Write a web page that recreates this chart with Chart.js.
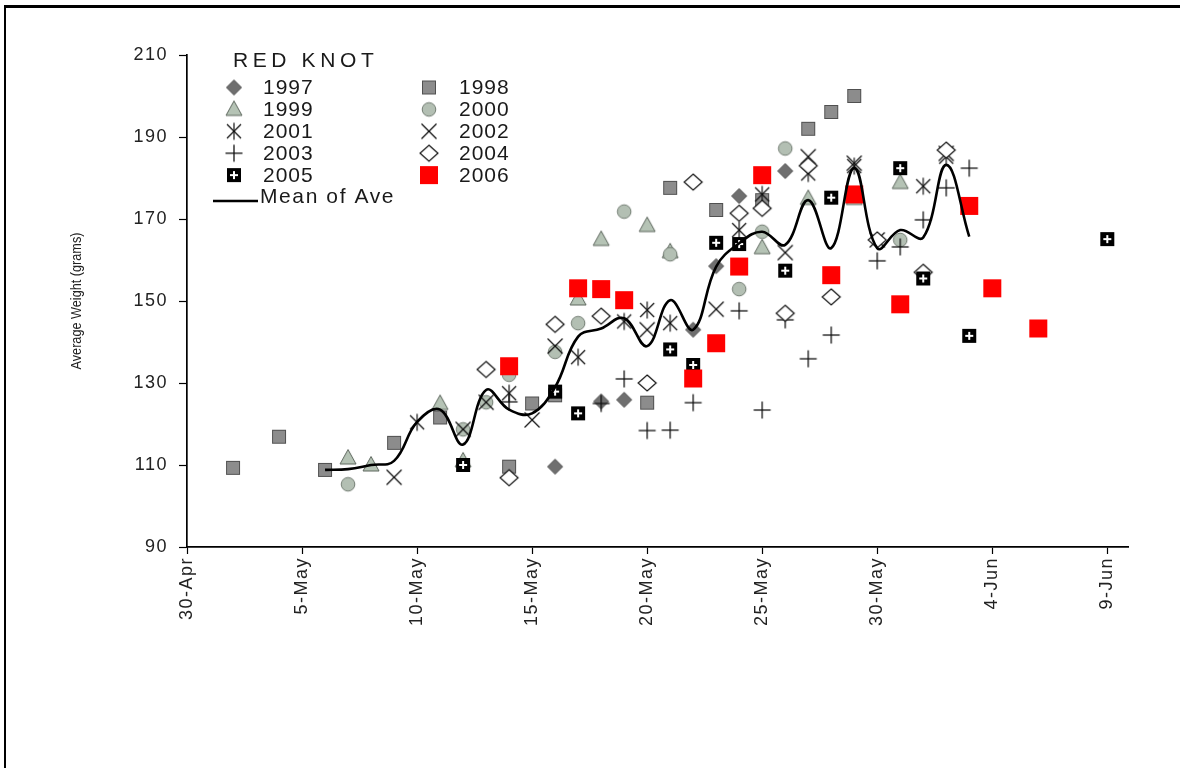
<!DOCTYPE html>
<html>
<head>
<meta charset="utf-8">
<script src="https://cdn.jsdelivr.net/npm/chart.js@4.4.1/dist/chart.umd.min.js"></script>
<style>
  html, body { margin: 0; padding: 0; background: #fff; }
  #wrap { position: relative; width: 1180px; height: 768px; overflow: hidden; }
  #wrap canvas { position: absolute; left: 0; top: 0; }
  #frame { position: absolute; left: 4px; top: 5px; right: -10px; bottom: -10px;
           border-left: 2px solid #000; border-top: 3px solid #000; pointer-events: none; }
</style>
</head>
<body>
<div id="wrap">
  <canvas id="chart" width="1180" height="768"></canvas>
  <div id="frame"></div>
</div>
<script>
// Days counted from 30 April; weights in grams.
const tickDays   = [0, 5, 10, 15, 20, 25, 30, 35, 40];
const tickLabels = ['30-Apr', '5-May', '10-May', '15-May', '20-May', '25-May', '30-May', '4-Jun', '9-Jun'];
const keyTitle = 'RED KNOT';
const yTitle = 'Average Weight (grams)';
const years = ['1997', '1998', '1999', '2000', '2001', '2002', '2003', '2004', '2005', '2006'];

// [day, average weight] per season
const y1997 = [[16,109.6],[18,125.5],[19,125.9],[22,143],[23,158.5],[24,175.6],[26,181.7]];
const y1998 = [[2,109.3],[4,116.9],[6,108.8],[9,115.4],[11,121.6],[14,109.6],[15,125],[16,127],[20,125.2],[21,177.6],[23,172.2],[25,174.6],[27,192],[28,196.1],[29,200]];
const y1999 = [[7,111.7],[8,110],[11,125],[12,111],[17,150.5],[18,165],[20,168.4],[21,162],[25,163],[27,175],[29,175],[31,178.9]];
const y2000 = [[7,105.3],[12,118.7],[13,125.3],[14,132],[16,137.6],[17,144.6],[19,171.8],[21,161.4],[24,152.9],[25,166.9],[26,187.2],[31,164.9]];
const y2001 = [[10,120.4],[14,127.5],[17,136.3],[19,145],[20,147.8],[21,144.6],[24,167.3],[25,176],[27,181.1],[29,182.9],[32,178],[33,185.2]];
const y2002 = [[9,107],[12,118.7],[13,125.3],[15,121],[16,139],[20,143],[23,148],[26,161.8],[27,185.2],[29,183.6],[30,164.9],[33,186]];
const y2003 = [[14,125.4],[18,125],[19,131],[20,118.4],[21,118.5],[22,125.2],[24,147.6],[25,123.4],[26,145.4],[27,135.9],[28,141.7],[30,159.8],[31,163.2],[32,169.8],[33,177.6],[34,182.4]];
const y2004 = [[13,133.3],[14,106.9],[16,144.3],[18,146.3],[20,130],[22,179],[24,171.4],[25,172.6],[26,147],[27,183],[28,151],[30,164.9],[32,157],[33,186.8]];
const y2005 = [[12,110],[16,127.9],[17,122.6],[21,138.2],[22,134.4],[23,164.2],[24,163.9],[26,157.4],[28,175.2],[31,182.4],[32,155.5],[34,141.5],[40,165.1]];
const y2006 = [[14,134.1],[17,153.1],[18,152.9],[19,150.2],[22,131.1],[23,139.7],[24,158.4],[25,180.7],[28,156.3],[29,176],[31,149.2],[34,173.2],[35,153.1],[37,143.3]];

const meanLabel = 'Mean of Ave';
const meanDays = [6,7,8,9,10,11,12,13,14,15,16,17,18,19,20,21,22,23,24,25,26,27,28,29,30,31,32,33,34];
const meanVals = [108.8,109,110,111,120.5,123.5,115,128.3,123.5,122.6,129,141.3,143.3,145.8,139,150.2,143,158.4,164.1,166.9,163.7,174.6,162.9,182.4,162.9,167.3,165.5,183.2,165.7];

const seasons = [y1997, y1998, y1999, y2000, y2001, y2002, y2003, y2004, y2005, y2006];

// Marker glyphs drawn on small canvases
function marker(kind) {
  const s = 24, m = s / 2;
  const c = document.createElement('canvas');
  c.width = s; c.height = s;
  const g = c.getContext('2d');
  const poly = (pts) => { g.beginPath(); pts.forEach((p, i) => i ? g.lineTo(p[0], p[1]) : g.moveTo(p[0], p[1])); g.closePath(); };
  const seg = (x1, y1, x2, y2) => { g.beginPath(); g.moveTo(x1, y1); g.lineTo(x2, y2); g.stroke(); };
  switch (kind) {
    case 'diamond':
      poly([[m, m - 7.5], [m + 7.5, m], [m, m + 7.5], [m - 7.5, m]]);
      g.fillStyle = '#6f6f6f'; g.fill(); g.strokeStyle = '#4e4e4e'; g.lineWidth = 1; g.stroke(); break;
    case 'square':
      g.fillStyle = '#8c8c8c'; g.fillRect(m - 7, m - 7, 14, 14);
      g.strokeStyle = '#505050'; g.lineWidth = 1; g.strokeRect(m - 6.5, m - 6.5, 13, 13); break;
    case 'triangle':
      poly([[m, m - 8.5], [m + 8, m + 6], [m - 8, m + 6]]);
      g.fillStyle = '#b5c3b5'; g.fill(); g.strokeStyle = '#5d665d'; g.lineWidth = 1; g.stroke(); break;
    case 'circle':
      g.beginPath(); g.arc(m, m, 6.8, 0, Math.PI * 2);
      g.fillStyle = '#b3bfb3'; g.fill(); g.strokeStyle = '#727c72'; g.lineWidth = 1; g.stroke(); break;
    case 'asterisk':
      g.strokeStyle = '#111'; g.lineWidth = 1.2;
      seg(m, m - 8.5, m, m + 8.5); seg(m - 7, m - 7, m + 7, m + 7); seg(m - 7, m + 7, m + 7, m - 7); break;
    case 'cross':
      g.strokeStyle = '#111'; g.lineWidth = 1.2;
      seg(m - 7.5, m - 7.5, m + 7.5, m + 7.5); seg(m - 7.5, m + 7.5, m + 7.5, m - 7.5); break;
    case 'plus':
      g.strokeStyle = '#111'; g.lineWidth = 1.3;
      seg(m - 8.5, m, m + 8.5, m); seg(m, m - 8.5, m, m + 8.5); break;
    case 'openDiamond':
      poly([[m, m - 8], [m + 9, m], [m, m + 8], [m - 9, m]]);
      g.fillStyle = '#fff'; g.fill(); g.strokeStyle = '#111'; g.lineWidth = 1.2; g.stroke(); break;
    case 'boxPlus':
      g.fillStyle = '#000'; g.fillRect(m - 7, m - 7, 14, 14);
      g.fillStyle = '#fff'; g.fillRect(m - 4, m - 1, 8, 2); g.fillRect(m - 1, m - 4, 2, 8); break;
    case 'red':
      g.fillStyle = '#ff0000'; g.fillRect(m - 9, m - 9, 18, 18); break;
  }
  return c;
}

const kinds = ['diamond', 'square', 'triangle', 'circle', 'asterisk', 'cross', 'plus', 'openDiamond', 'boxPlus', 'red'];
const glyphs = kinds.map(marker);

const datasets = seasons.map((pts, i) => ({
  type: 'scatter',
  label: years[i],
  data: pts.map(p => ({ x: p[0], y: p[1] })),
  pointStyle: glyphs[i],
  pointRadius: 6,
  pointHoverRadius: 6,
  order: years.length - i
}));

datasets.push({
  type: 'line',
  label: meanLabel,
  data: meanDays.map((d, i) => ({ x: d, y: meanVals[i] })),
  borderColor: '#000',
  borderWidth: 2.6,
  pointRadius: 0,
  tension: 0.4,
  fill: false,
  order: 0
});

// Wide-set axis lettering for the tick labels
const spacingPlugin = {
  id: 'tickSpacing',
  beforeDraw(chart) { chart.ctx.letterSpacing = '1.5px'; },
  afterDraw(chart) { chart.ctx.letterSpacing = '0px'; }
};

// Narrow vertical axis title
const yTitlePlugin = {
  id: 'yTitle',
  afterDraw(chart) {
    const ctx = chart.ctx;
    const a = chart.chartArea;
    ctx.save();
    ctx.letterSpacing = '0px';
    ctx.font = '14px "Liberation Sans", Arial, sans-serif';
    ctx.fillStyle = '#222';
    ctx.textAlign = 'center';
    ctx.textBaseline = 'middle';
    const w = ctx.measureText(yTitle).width;
    ctx.translate(77, (a.top + a.bottom) / 2);
    ctx.rotate(-Math.PI / 2);
    ctx.scale(137 / w, 1);
    ctx.fillText(yTitle, 0, 0);
    ctx.restore();
  }
};

// Two-column key with title, drawn in the upper-left of the plot
const keyPlugin = {
  id: 'seasonKey',
  afterDraw(chart) {
    const ctx = chart.ctx;
    ctx.save();
    ctx.fillStyle = '#1a1a1a';
    ctx.textBaseline = 'middle';
    ctx.textAlign = 'left';
    ctx.font = '21px "Liberation Sans", Arial, sans-serif';
    ctx.letterSpacing = '4.6px';
    ctx.fillText(keyTitle, 233, 61);
    ctx.letterSpacing = '1px';
    const markX = [234, 429], textX = [263, 459];
    years.forEach((yr, i) => {
      const col = i % 2, row = Math.floor(i / 2);
      const y = 87.5 + row * 21.9;
      const gl = glyphs[i];
      ctx.drawImage(gl, markX[col] - gl.width / 2, y - gl.height / 2);
      ctx.fillText(yr, textX[col], y + 1);
    });
    const ly = 87.5 + 5 * 21.9;
    ctx.strokeStyle = '#000';
    ctx.lineWidth = 2.6;
    ctx.beginPath(); ctx.moveTo(213, ly + 4); ctx.lineTo(258, ly + 4); ctx.stroke();
    ctx.letterSpacing = '1.6px';
    ctx.fillText(meanLabel, 260, ly);
    ctx.restore();
  }
};

const tickFont = { family: '"Liberation Sans", Arial, sans-serif', size: 18 };

new Chart(document.getElementById('chart'), {
  type: 'scatter',
  data: { datasets },
  plugins: [spacingPlugin, yTitlePlugin, keyPlugin],
  options: {
    responsive: false,
    animation: false,
    events: [],
    layout: { padding: { left: 65, top: 55, right: 52, bottom: 141 } },
    plugins: { legend: { display: false }, tooltip: { enabled: false } },
    scales: {
      x: {
        type: 'linear',
        min: 0,
        max: 40.9,
        afterBuildTicks: (scale) => { scale.ticks = tickDays.map(v => ({ value: v })); },
        afterFit: (scale) => { scale.height = 80; },
        ticks: {
          autoSkip: false,
          maxRotation: 90,
          minRotation: 90,
          padding: 3,
          color: '#222',
          font: tickFont,
          callback: (v) => tickLabels[tickDays.indexOf(v)]
        },
        grid: { drawOnChartArea: false, tickLength: 7, color: '#000', tickWidth: 1.2 },
        border: { color: '#000', width: 1.7 }
      },
      y: {
        min: 90,
        max: 210,
        afterFit: (scale) => { scale.width = 122; },
        ticks: { stepSize: 20, padding: 11, color: '#222', font: tickFont },
        grid: { drawOnChartArea: false, tickLength: 8, color: '#000', tickWidth: 1.2 },
        border: { color: '#000', width: 1.7 },
        title: { display: false }
      }
    }
  }
});
</script>
</body>
</html>
